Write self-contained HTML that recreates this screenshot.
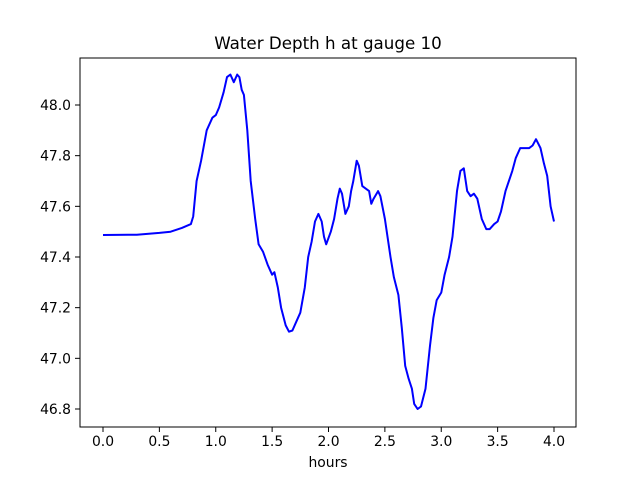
<!DOCTYPE html>
<html><head><meta charset="utf-8"><style>
body{margin:0;background:#fff;font-family:"Liberation Sans","DejaVu Sans",sans-serif}
svg text{font-family:"DejaVu Sans","Liberation Sans",sans-serif;font-size:13.9px;fill:#000}
</style></head><body>
<svg id="chart" width="640" height="480" viewBox="0 0 640 480" xmlns="http://www.w3.org/2000/svg">
<rect width="640" height="480" fill="#fff"/>
<text x="328" y="49" text-anchor="middle" style="font-size:16.7px">Water Depth h at gauge 10</text>
<g id="ticks"></g>
<path id="series" fill="none" stroke="#0000ff" stroke-width="2" stroke-linejoin="round"/>
<rect x="80" y="58" width="496" height="369" fill="none" stroke="#000" stroke-width="1"/>
<text x="328" y="467" text-anchor="middle">hours</text>
</svg>
<script>
const times=[0,0.3,0.5,0.6,0.7,0.78,0.8,0.83,0.87,0.92,0.97,1.0,1.03,1.07,1.1,1.13,1.16,1.19,1.21,1.23,1.25,1.28,1.31,1.35,1.38,1.42,1.46,1.5,1.52,1.55,1.58,1.62,1.65,1.68,1.72,1.75,1.79,1.82,1.85,1.88,1.91,1.94,1.96,1.98,2.02,2.05,2.08,2.1,2.12,2.15,2.18,2.2,2.22,2.25,2.27,2.3,2.33,2.36,2.38,2.4,2.44,2.46,2.5,2.55,2.58,2.62,2.65,2.68,2.71,2.74,2.76,2.79,2.82,2.86,2.9,2.93,2.96,3.0,3.03,3.07,3.1,3.14,3.17,3.2,3.23,3.26,3.29,3.32,3.36,3.4,3.43,3.47,3.5,3.53,3.57,3.6,3.63,3.66,3.7,3.74,3.78,3.81,3.84,3.88,3.91,3.94,3.97,4.0];
const depths=[47.487,47.488,47.495,47.50,47.515,47.53,47.56,47.70,47.78,47.90,47.95,47.96,47.99,48.05,48.11,48.12,48.09,48.12,48.11,48.06,48.04,47.90,47.70,47.55,47.45,47.42,47.37,47.33,47.34,47.28,47.20,47.13,47.105,47.11,47.15,47.18,47.28,47.40,47.46,47.54,47.57,47.54,47.48,47.45,47.50,47.55,47.63,47.67,47.65,47.57,47.60,47.66,47.70,47.78,47.76,47.68,47.67,47.66,47.61,47.63,47.66,47.64,47.55,47.40,47.32,47.25,47.12,46.97,46.92,46.88,46.82,46.80,46.81,46.88,47.05,47.16,47.23,47.26,47.33,47.40,47.48,47.66,47.74,47.75,47.66,47.64,47.65,47.63,47.55,47.51,47.51,47.53,47.54,47.58,47.66,47.70,47.74,47.79,47.83,47.83,47.83,47.84,47.865,47.83,47.77,47.72,47.60,47.54];
const xTicks=[0,0.5,1,1.5,2,2.5,3,3.5,4];
const xTickLabels=["0.0","0.5","1.0","1.5","2.0","2.5","3.0","3.5","4.0"];
const yTicks=[46.8,47.0,47.2,47.4,47.6,47.8,48.0];
const yTickLabels=["46.8","47.0","47.2","47.4","47.6","47.8","48.0"];
const X=t=>103+t*112.75;
const Y=h=>105+(48-h)*253.33;
const NS="http://www.w3.org/2000/svg";
const g=document.getElementById('ticks');
xTicks.forEach((t,i)=>{
  const l=document.createElementNS(NS,'line');
  l.setAttribute('x1',X(t));l.setAttribute('x2',X(t));l.setAttribute('y1',427);l.setAttribute('y2',432);
  l.setAttribute('stroke','#000');l.setAttribute('stroke-width','1');
  
  
  g.appendChild(l);
  const tx=document.createElementNS(NS,'text');
  tx.setAttribute('x',X(t));tx.setAttribute('y',446);tx.setAttribute('text-anchor','middle');
  tx.textContent=xTickLabels[i];
  
  
  g.appendChild(tx);
});
yTicks.forEach((h,i)=>{
  const l=document.createElementNS(NS,'line');
  l.setAttribute('x1',75);l.setAttribute('x2',80);l.setAttribute('y1',Y(h));l.setAttribute('y2',Y(h));
  l.setAttribute('stroke','#000');l.setAttribute('stroke-width','1');
  
  
  g.appendChild(l);
  const tx=document.createElementNS(NS,'text');
  tx.setAttribute('x',71);tx.setAttribute('y',Y(h)+5);tx.setAttribute('text-anchor','end');
  tx.textContent=yTickLabels[i];
  
  
  g.appendChild(tx);
});
document.getElementById('series').setAttribute('d',times.map((t,i)=>(i?'L':'M')+X(t).toFixed(1)+','+Y(depths[i]).toFixed(1)).join(''));
</script>
</body></html>
